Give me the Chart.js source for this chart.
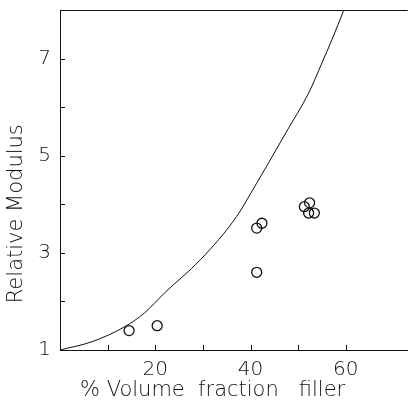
<!DOCTYPE html>
<html>
<head>
<meta charset="utf-8">
<script src="https://cdn.jsdelivr.net/npm/chart.js@4/dist/chart.umd.min.js"></script>
<style>
  body { margin: 0; background: #fff; }
  #wrap { width: 414px; height: 408px; }
</style>
</head>
<body>
<div id="wrap"><canvas id="modulus-chart" width="414" height="408"></canvas></div>
<script>
// Theory curve
const curveX = [0, 6.7, 13.6, 17.7, 21.9, 29.5, 37.1, 41.2, 43.3, 47.4, 52.2, 55.0, 57.1, 59.6];
const curveY = [1.0, 1.17, 1.48, 1.76, 2.17, 2.86, 3.75, 4.42, 4.77, 5.47, 6.29, 6.91, 7.39, 8.0];

// Measured points
const dataX = [14.5, 20.4, 41.3, 41.3, 42.4, 51.3, 52.4, 52.2, 53.4];
const dataY = [1.40, 1.50, 2.60, 3.51, 3.61, 3.95, 4.03, 3.82, 3.82];

// Tick labels shown on each axis
const xTickLabels = [20, 40, 60];
const yTickLabels = [1, 3, 5, 7];

const ink = '#111';
const tickFont = { family: 'DejaVu Sans', size: 20, weight: 200 };
const titleFont = { family: 'DejaVu Sans', size: 21, weight: 200 };

// inward tick marks + top frame line
const frame = {
    id: 'frame',
    afterDraw(chart) {
        const {ctx, chartArea: a, scales: {x, y}} = chart;
        ctx.save();
        ctx.strokeStyle = ink;
        ctx.lineWidth = 1;
        ctx.beginPath();
        ctx.moveTo(a.left, a.top + 0.5);
        ctx.lineTo(a.right, a.top + 0.5);
        x.ticks.forEach(t => {
            const px = Math.round(x.getPixelForValue(t.value)) + 0.5;
            if (t.value <= x.min || t.value >= x.max) return;
            ctx.moveTo(px, a.bottom);
            ctx.lineTo(px, a.bottom - 5);
        });
        y.ticks.forEach(t => {
            const py = Math.round(y.getPixelForValue(t.value)) + 0.5;
            if (t.value <= y.min || t.value >= y.max) return;
            ctx.moveTo(a.left, py);
            ctx.lineTo(a.left + 5, py);
        });
        ctx.stroke();
        ctx.restore();
    }
};

const ctx = document.getElementById('modulus-chart').getContext('2d');
new Chart(ctx, {
    type: 'scatter',
    data: {
        datasets: [{
            data: curveX.map((v, i) => ({x: v, y: curveY[i]})),
            showLine: true,
            borderColor: ink,
            borderWidth: 1,
            pointRadius: 0,
            cubicInterpolationMode: 'monotone'
        }, {
            data: dataX.map((v, i) => ({x: v, y: dataY[i]})),
            pointStyle: 'circle',
            pointRadius: 5,
            borderColor: ink,
            borderWidth: 1.3,
            backgroundColor: 'rgba(0,0,0,0)'
        }]
    },
    options: {
        responsive: false,
        animation: false,
        layout: { padding: { top: 10, right: 1, left: 0, bottom: 0 } },
        plugins: { legend: { display: false }, tooltip: { enabled: false } },
        scales: {
            x: {
                min: 0,
                max: 73,
                grid: { display: false, drawTicks: false },
                border: { display: true, color: ink, width: 1 },
                ticks: {
                    stepSize: 10,
                    padding: 8,
                    color: ink,
                    font: tickFont,
                    maxRotation: 0,
                    callback: v => xTickLabels.includes(v) ? String(v) : ''
                },
                title: {
                    display: true,
                    text: '   % Volume  fraction   filler',
                    align: 'start',
                    color: ink,
                    font: titleFont,
                    padding: { top: 0, bottom: 5 }
                },
                afterFit: s => { s.height = 58; s.paddingLeft = 0; s.paddingRight = 0; }
            },
            y: {
                min: 1,
                max: 8,
                grid: { display: false, drawTicks: false },
                border: { display: true, color: ink, width: 1 },
                ticks: {
                    stepSize: 1,
                    padding: 9,
                    color: ink,
                    font: tickFont,
                    callback: v => yTickLabels.includes(v) ? String(v) : ''
                },
                title: {
                    display: true,
                    text: '       Relative Modulus',
                    align: 'start',
                    color: ink,
                    font: titleFont,
                    padding: { top: 4, bottom: 0 }
                },
                afterFit: s => { s.width = 60; s.paddingTop = 0; s.paddingBottom = 0; }
            }
        }
    },
    plugins: [frame]
});
</script>
</body>
</html>
